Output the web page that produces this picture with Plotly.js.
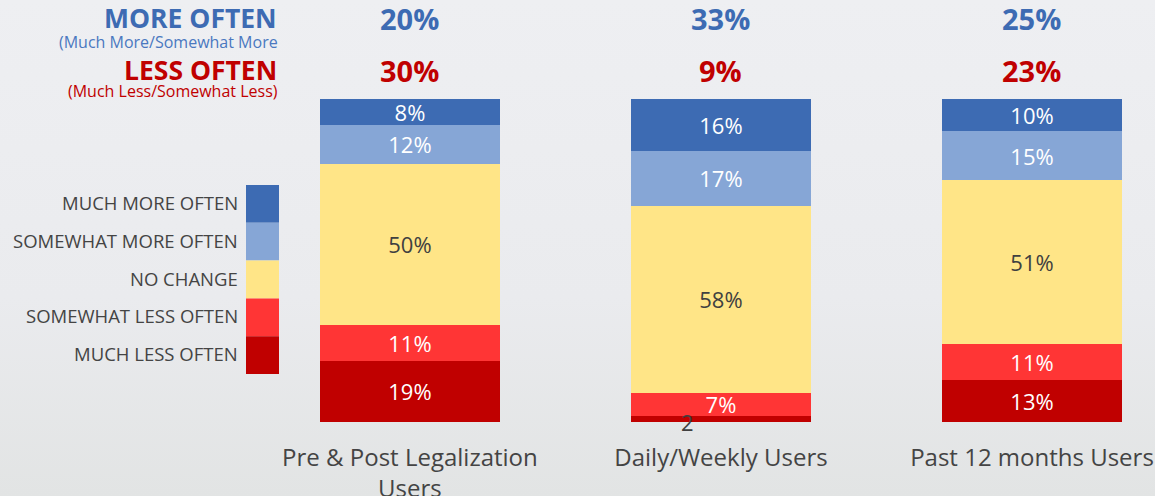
<!DOCTYPE html>
<html>
<head>
<meta charset="utf-8">
<script src="https://cdn.plot.ly/plotly-3.0.1.min.js"></script>
<style>
  html, body { margin: 0; padding: 0; }
  body { width: 1155px; height: 496px; background: linear-gradient(to bottom, #eeeff2 0%, #eaebee 60%, #e2e4e4 100%); overflow: hidden; }
  #chart { width: 1155px; height: 496px; }
</style>
</head>
<body>
<div id="chart"></div>
<script>
// ---- data ----
var categories = ["Pre & Post Legalization<br>Users", "Daily/Weekly Users", "Past 12 months Users"];
var muchMore     = [8, 16, 10];
var somewhatMore = [12, 17, 15];
var noChange     = [50, 58, 51];
var somewhatLess = [11, 7, 11];
var muchLess     = [19, 2, 13];
var moreOften = [20, 33, 25];
var lessOften = [30, 9, 23];
var seriesNames = ["MUCH MORE OFTEN", "SOMEWHAT MORE OFTEN", "NO CHANGE", "SOMEWHAT LESS OFTEN", "MUCH LESS OFTEN"];

// ---- styles ----
var colors = ["#3d6bb3", "#86a6d6", "#ffe587", "#ff3535", "#c00000"];
var FONT = "Open Sans, sans-serif";
var W = 1155, H = 496, TOP = 99, BOT = 422;
function py(pix) { return (BOT - pix) / (BOT - TOP); } // pixel y -> paper y
function px(pix) { return pix / W; }

function mk(vals, idx, textColor, tpos) {
  return {
    type: "bar",
    x: categories,
    y: vals,
    name: seriesNames[idx],
    marker: { color: colors[idx], line: { width: 0 } },
    text: vals.map(function (v) { return v + "%"; }),
    textposition: tpos || "inside",
    insidetextanchor: "middle",
    textfont: { family: FONT, size: 22, color: textColor },
    hoverinfo: "name+y",
    showlegend: false
  };
}

var traces = [
  mk(muchLess, 4, "#ffffff", ["inside", "none", "inside"]),
  mk(somewhatLess, 3, "#ffffff"),
  mk(noChange, 2, "#404040"),
  mk(somewhatMore, 1, "#ffffff"),
  mk(muchMore, 0, "#ffffff")
];

var annotations = [];
// left headers
annotations.push({ xref: "paper", yref: "paper", x: px(279), y: py(18), xanchor: "right", yanchor: "middle", showarrow: false,
  text: "<b>MORE OFTEN</b>", font: { family: FONT, size: 26.5, color: "#3d6bb3" } });
annotations.push({ xref: "paper", yref: "paper", x: px(280), y: py(42), xanchor: "right", yanchor: "middle", showarrow: false,
  text: "(Much More/Somewhat More", font: { family: FONT, size: 16, color: "#4a78c0" } });
annotations.push({ xref: "paper", yref: "paper", x: px(279), y: py(70), xanchor: "right", yanchor: "middle", showarrow: false,
  text: "<b>LESS OFTEN</b>", font: { family: FONT, size: 26.5, color: "#c00000" } });
annotations.push({ xref: "paper", yref: "paper", x: px(280), y: py(91), xanchor: "right", yanchor: "middle", showarrow: false,
  text: "(Much Less/Somewhat Less)", font: { family: FONT, size: 16, color: "#c00000" } });
// summary values
for (var i = 0; i < categories.length; i++) {
  annotations.push({ xref: "x", yref: "paper", x: i, y: py(18), xanchor: "center", yanchor: "middle", showarrow: false,
    text: "<b>" + moreOften[i] + "%</b>", font: { family: FONT, size: 29, color: "#3d6bb3" } });
  annotations.push({ xref: "x", yref: "paper", x: i, y: py(70), xanchor: "center", yanchor: "middle", showarrow: false,
    text: "<b>" + lessOften[i] + "%</b>", font: { family: FONT, size: 29, color: "#c00000" } });
}
// small value below bar 2
annotations.push({ xref: "x", yref: "y", x: 1, y: 0, xshift: -33, yshift: 0, xanchor: "center", yanchor: "middle", showarrow: false,
  text: String(muchLess[1]), font: { family: FONT, size: 22, color: "#404040" } });

// custom legend
var shapes = [];
var legTop = 185, legH = 37.8;
for (var k = 0; k < seriesNames.length; k++) {
  var y0 = legTop + k * legH, y1 = y0 + legH;
  shapes.push({ type: "rect", xref: "paper", yref: "paper", x0: px(246), x1: px(279), y0: py(y1), y1: py(y0),
    fillcolor: colors[k], line: { width: 0 } });
  annotations.push({ xref: "paper", yref: "paper", x: px(240), y: py((y0 + y1) / 2 - 1.5), xanchor: "right", yanchor: "middle",
    showarrow: false, text: seriesNames[k], font: { family: FONT, size: 18.5, color: "#444444" } });
}

var layout = {
  width: W, height: H,
  margin: { l: 0, r: 0, t: TOP, b: H - BOT, pad: 0 },
  barmode: "stack",
  bargap: 0.421,
  paper_bgcolor: "rgba(0,0,0,0)",
  plot_bgcolor: "rgba(0,0,0,0)",
  uniformtext: { mode: "show", minsize: 22 },
  xaxis: {
    type: "category",
    range: [-1.318, 2.3955],
    showgrid: false, zeroline: false, showline: false,
    ticks: "outside", ticklen: 14, tickcolor: "rgba(0,0,0,0)",
    tickfont: { family: FONT, size: 24, color: "#444444" },
    automargin: false, fixedrange: true
  },
  yaxis: { range: [0, 100], visible: false, fixedrange: true },
  annotations: annotations,
  shapes: shapes,
  font: { family: FONT }
};

Plotly.newPlot("chart", traces, layout, { displayModeBar: false, staticPlot: true });
</script>
</body>
</html>
